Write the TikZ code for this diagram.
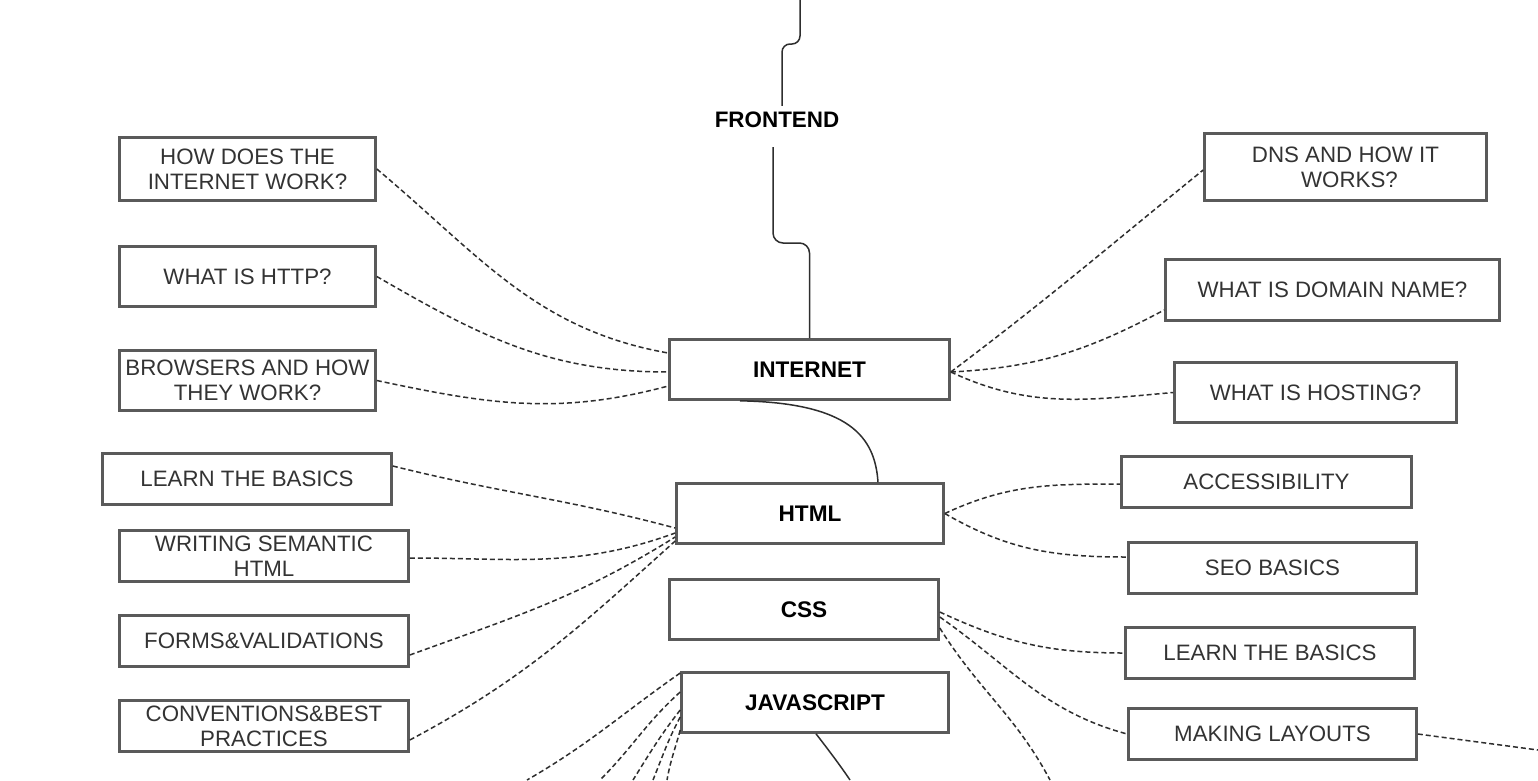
\documentclass[tikz,border=0pt]{standalone}
\usepackage{fontspec}
\setmainfont{Liberation Sans}
\definecolor{boxgray}{HTML}{5A5A5A}
\definecolor{txtgray}{HTML}{333333}
\definecolor{lngray}{HTML}{2E2E2E}
\begin{document}
\begin{tikzpicture}[x=1pt,y=-1pt,
  box/.style={draw=boxgray,line width=2.6pt,fill=white,align=center,inner sep=0pt,
    font=\fontsize{22.3}{25}\selectfont,text=txtgray},
  hub/.style={box,font=\bfseries\fontsize{22.6}{25}\selectfont,text=black},
  dl/.style={draw=lngray,line width=1.5pt,dash pattern=on 5pt off 3pt},
  sl/.style={draw=lngray,line width=1.5pt}]
\useasboundingbox[fill=white] (0,0) rectangle (1538,780);

% left boxes
\node[box,minimum width=256pt,minimum height=63pt] (hiw) at (247.5,169) {HOW DOES THE\\INTERNET WORK?};
\node[box,minimum width=256pt,minimum height=60pt] (http) at (247.5,276.5) {WHAT IS HTTP?};
\node[box,minimum width=256pt,minimum height=60pt] (brw) at (247.5,380.5) {BROWSERS AND HOW\\THEY WORK?};
\node[box,minimum width=289pt,minimum height=51pt] (hlb) at (247,479) {LEARN THE BASICS};
\node[box,minimum width=289pt,minimum height=51pt] (sem) at (264,556) {WRITING SEMANTIC\\HTML};
\node[box,minimum width=289pt,minimum height=51pt] (frm) at (264,641) {FORMS\&VALIDATIONS};
\node[box,minimum width=289pt,minimum height=51pt] (conv) at (264,726) {CONVENTIONS\&BEST\\PRACTICES};

% hubs
\node[font=\bfseries\fontsize{22.4}{25}\selectfont,inner sep=0pt,minimum height=28pt] (fe) at (777,120) {FRONTEND};
\node[hub,minimum width=280pt,minimum height=60pt] (inet) at (809.5,369.5) {INTERNET};
\node[hub,minimum width=267pt,minimum height=60pt] (html) at (810,513.5) {HTML};
\node[hub,minimum width=269pt,minimum height=60pt] (css) at (804,609.5) {CSS};
\node[hub,minimum width=267pt,minimum height=60pt] (js) at (815,702.5) {JAVASCRIPT};

% right boxes
\node[box,minimum width=282pt,minimum height=67pt] (dns) at (1345.5,167) {DNS AND HOW IT\\\hspace*{8pt}WORKS?};
\node[box,minimum width=334pt,minimum height=61pt] (dom) at (1332.5,290) {WHAT IS DOMAIN NAME?};
\node[box,minimum width=282pt,minimum height=60pt] (host) at (1315.5,392.5) {WHAT IS HOSTING?};
\node[box,minimum width=290pt,minimum height=51pt] (acc) at (1266.5,482) {ACCESSIBILITY};
\node[box,minimum width=288pt,minimum height=51pt] (seo) at (1272.5,568) {SEO BASICS};
\node[box,minimum width=289pt,minimum height=51pt] (clb) at (1270,653) {LEARN THE BASICS};
\node[box,minimum width=288pt,minimum height=51pt] (lay) at (1272.5,734) {MAKING LAYOUTS};

% free ends
\coordinate (top) at (800,0);
\coordinate (cssend) at (1050,780);
\coordinate (layend) at (1538,750);
\coordinate (jsend) at (850,780);
\coordinate (j1) at (527,780);
\coordinate (j2) at (600,780);
\coordinate (j3) at (633,780);
\coordinate (j4) at (653,780);
\coordinate (j5) at (667,780);

% solid connectors
\draw[sl,rounded corners=8pt] (top) -- (800,44) -- (782,44) -- ([xshift=5pt]fe.north);
\draw[sl,rounded corners=10pt] ([xshift=-4pt,yshift=-13pt]fe.south) -- (773,243) -- (809.5,243) -- (inet.north);
\draw[sl] ([xshift=-69.5pt]inet.south) .. controls +(110,2) and +(-3,-45) .. ([xshift=68pt]html.north);
\draw[sl] ([xshift=1pt]js.south) .. controls +(14,18) and +(-8,-12) .. (jsend);

% internet
\draw[dl] (hiw.east) to[out=-40,in=170] ([yshift=16.5pt]inet.west);
\draw[dl] (http.east) to[out=-30,in=180] ([yshift=-2.5pt]inet.west);
\draw[dl] (brw.east) to[out=-12,in=195] ([yshift=-16.5pt]inet.west);
\draw[dl] ([yshift=-2.5pt]inet.east) to[out=37,in=219] ([yshift=-3pt]dns.west);
\draw[dl] ([yshift=-2.5pt]inet.east) to[out=3,in=208] ([yshift=-20pt]dom.west);
\draw[dl] ([yshift=-2.5pt]inet.east) to[out=-25,in=185] (host.west);

% html
\draw[dl] ([yshift=13pt]hlb.east) to[out=-14,in=165] ([yshift=-14.5pt]html.west);
\draw[dl] ([yshift=-2pt]sem.east) to[out=0,in=200] ([yshift=-19.5pt]html.west);
\draw[dl] ([yshift=-14pt]frm.east) to[out=20,in=212] ([yshift=-23.5pt]html.west);
\draw[dl] ([yshift=-14pt]conv.east) to[out=28,in=222] ([yshift=-27.5pt]html.west);
\draw[dl] (html.east) to[out=25,in=180] ([yshift=-2pt]acc.west);
\draw[dl] (html.east) to[out=-30,in=180] ([yshift=11pt]seo.west);

% css
\draw[dl] ([yshift=-2.5pt]css.east) to[out=-25,in=180] (clb.west);
\draw[dl] ([yshift=-7.5pt]css.east) to[out=-35,in=165] (lay.west);
\draw[dl] ([yshift=-18.5pt]css.east) to[out=-58,in=118] (cssend);
\draw[dl] (lay.east) -- (layend);

% javascript
\draw[dl] ([yshift=29.5pt]js.west) to[out=215,in=30] (j1);
\draw[dl] ([yshift=10.5pt]js.west) to[out=222,in=45] (j2);
\draw[dl] ([yshift=-7.5pt]js.west) to[out=232,in=58] (j3);
\draw[dl] ([yshift=-14.5pt]js.west) to[out=242,in=68] (j4);
\draw[dl] ([yshift=-27.5pt]js.west) to[out=255,in=80] (j5);
\end{tikzpicture}
\end{document}
